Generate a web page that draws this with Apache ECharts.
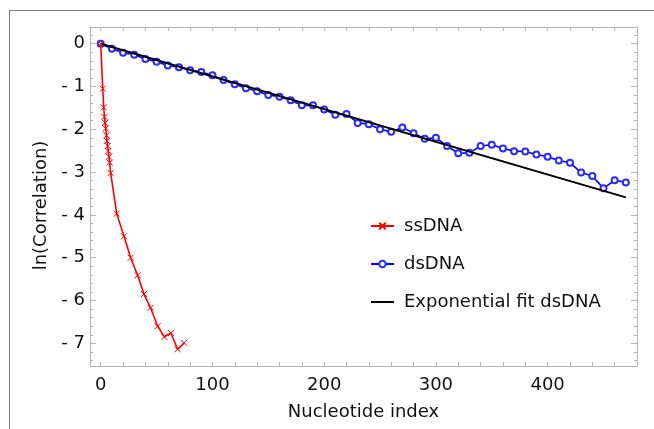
<!doctype html>
<html>
<head>
<meta charset="utf-8">
<script src="https://cdn.jsdelivr.net/npm/echarts@6/dist/echarts.min.js"></script>
<style>
  html, body { margin: 0; padding: 0; background: #fff; }
  #chart { width: 654px; height: 429px; }
</style>
</head>
<body>
<div id="chart"></div>
<script>
// ssDNA
var ssX = [0, 1.8, 2.7, 3.3, 3.9, 4.5, 5.1, 5.6, 6.2, 6.8, 7.4, 8.0, 8.9, 14.3, 20.8, 26.8, 33, 38.7, 44.6, 50.9, 57, 62.8, 68.8, 74.7];
var ssY = [0, -1.05, -1.49, -1.71, -1.85, -1.98, -2.14, -2.27, -2.39, -2.51, -2.64, -2.78, -3.02, -3.97, -4.50, -5.00, -5.41, -5.85, -6.17, -6.60, -6.85, -6.76, -7.14, -6.99];

// dsDNA, every 10 nucleotides
var dsX = [0, 10, 20, 30, 40, 50, 60, 70, 80, 90, 100, 110, 120, 130, 140, 150, 160, 170, 180, 190, 200, 210, 220, 230,
           240, 250, 260, 270, 280, 290, 300, 310, 320, 330, 340, 350, 360, 370, 380, 390, 400, 410, 420, 430, 440, 450, 460, 470];
var dsY = [0, -0.12, -0.21, -0.26, -0.355, -0.42, -0.51, -0.55, -0.62, -0.66, -0.74, -0.85, -0.95, -1.04, -1.11, -1.20,
           -1.24, -1.32, -1.44, -1.44, -1.54, -1.66, -1.64, -1.85, -1.88, -2.00, -2.06, -1.96, -2.09, -2.22, -2.20, -2.39,
           -2.56, -2.55, -2.39, -2.36, -2.45, -2.51, -2.52, -2.59, -2.64, -2.73, -2.78, -3.01, -3.09, -3.38, -3.19, -3.24];

// exponential fit (straight in log scale)
var fitX = [0, 470];
var fitY = [0, -3.59];

var xLabels = [0, 100, 200, 300, 400];
var yLabels = [0, -1, -2, -3, -4, -5, -6, -7];

var xTicks = [];
for (var i = 0; i <= 480; i += 20) xTicks.push(i);
var yMinor = [];
for (var k = 0; k <= 38; k++) yMinor.push(+(0.2 - k * 0.2).toFixed(1));

function pairs(xs, ys) {
  return xs.map(function (x, i) { return [x, ys[i]]; });
}

var font = 'DejaVu Sans';
var axisGray = '#b4b4b4';

function xAxisDef(pos, labels) {
  return {
    type: 'value', position: pos, min: -9.6, max: 480,
    axisLine: { show: true, onZero: false, lineStyle: { color: axisGray, width: 1 } },
    axisTick: { show: true, inside: true, length: 4, customValues: xTicks, lineStyle: { color: axisGray } },
    axisLabel: labels ? {
      show: true, customValues: xLabels, margin: 10, color: '#111', fontSize: 18, fontFamily: font
    } : { show: false },
    splitLine: { show: false },
    name: labels ? 'Nucleotide index' : '',
    nameLocation: 'middle', nameGap: 37,
    nameTextStyle: { color: '#111', fontSize: 18, fontFamily: font }
  };
}

function yAxisDef(pos, ticks, len, labels) {
  return {
    type: 'value', position: pos, min: -7.53, max: 0.39,
    axisLine: { show: true, onZero: false, lineStyle: { color: axisGray, width: 1 } },
    axisTick: { show: true, inside: true, length: len, customValues: ticks, lineStyle: { color: axisGray } },
    axisLabel: labels ? {
      show: true, customValues: yLabels, margin: 5, color: '#111', fontSize: 18, fontFamily: font,
      formatter: function (v) { return v === 0 ? '0' : '- ' + Math.abs(v); }
    } : { show: false },
    splitLine: { show: false },
    name: labels ? 'ln(Correlation)' : '',
    nameLocation: 'middle', nameGap: 37,
    nameTextStyle: { color: '#111', fontSize: 18, fontFamily: font, padding: [0, 18, 0, 0] }
  };
}

var chart = echarts.init(document.getElementById('chart'));
chart.setOption({
  animation: false,
  backgroundColor: '#fff',
  textStyle: { fontFamily: font },
  graphic: [{
    type: 'rect', silent: true,
    shape: { x: 9.5, y: 10.5, width: 720, height: 500 },
    style: { fill: 'none', stroke: '#7a7a7a', lineWidth: 1 }
  }],
  grid: { left: 90, right: 17, top: 27, bottom: 63 },
  xAxis: [xAxisDef('bottom', true), xAxisDef('top', false)],
  yAxis: [
    yAxisDef('left', yLabels, 6, true),
    yAxisDef('left', yMinor, 3, false),
    yAxisDef('right', yLabels, 6, false),
    yAxisDef('right', yMinor, 3, false)
  ],
  legend: {
    orient: 'vertical', left: 370, top: 216, padding: 0,
    itemWidth: 23, itemHeight: 8, itemGap: 18,
    textStyle: { fontSize: 18, lineHeight: 20, color: '#111', fontFamily: font, padding: [0, 0, 0, 5] },
    data: ['ssDNA', 'dsDNA', 'Exponential fit dsDNA']
  },
  series: [
    {
      name: 'Exponential fit dsDNA', type: 'line', data: pairs(fitX, fitY),
      symbol: 'none',
      lineStyle: { color: '#000', width: 2 }, itemStyle: { color: '#000', opacity: 0 }, z: 3
    },
    {
      name: 'dsDNA', type: 'line', data: pairs(dsX, dsY),
      symbol: 'emptyCircle', symbolSize: 6,
      lineStyle: { color: '#0000ff', width: 1.6 },
      itemStyle: { color: '#2a2aff', borderColor: '#2a2aff', borderWidth: 1 }, z: 2
    },
    {
      name: 'ssDNA', type: 'line', data: pairs(ssX, ssY),
      symbol: 'path://M0,0L10,10M10,0L0,10', symbolSize: 6,
      lineStyle: { color: '#ff0000', width: 1.6 },
      itemStyle: { color: 'none', borderColor: '#ff0000', borderWidth: 1 }, z: 4
    }
  ]
});
</script>
</body>
</html>
